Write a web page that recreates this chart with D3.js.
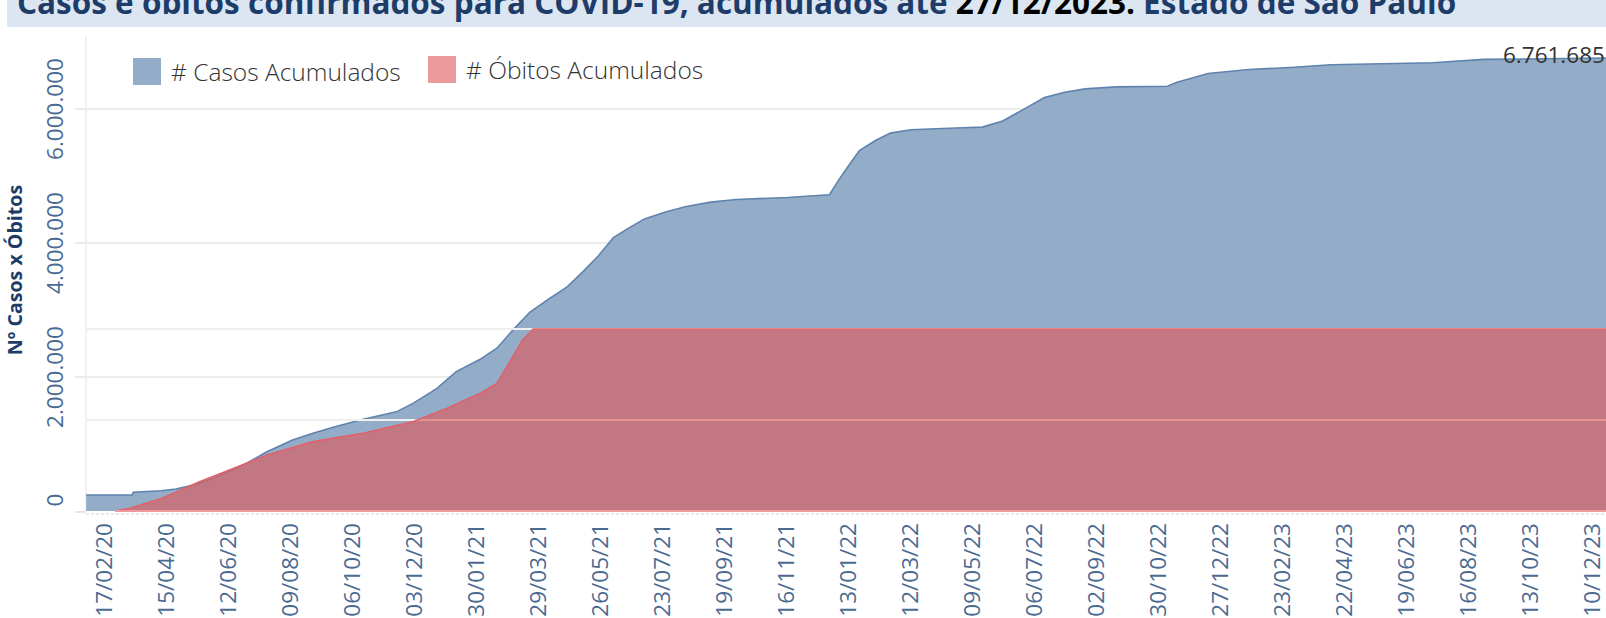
<!DOCTYPE html>
<html>
<head>
<meta charset="utf-8">
<script src="https://cdn.jsdelivr.net/npm/d3@7"></script>
<style>
    body { margin: 0; background: #fff; overflow: hidden; }
    svg { display: block; font-family: "Open Sans", sans-serif; }
</style>
</head>
<body>
<div id="chart"></div>
<script>
// ***************数据*******************
const casosDatas = ['2020-02-01', '2020-03-15', '2020-03-16', '2020-04-11', '2020-04-25', '2020-05-11', '2020-05-30',
    '2020-06-30', '2020-07-19', '2020-08-12', '2020-08-31', '2020-09-19', '2020-10-17', '2020-11-17', '2020-12-03',
    '2020-12-25', '2021-01-12', '2021-02-03', '2021-02-19', '2021-03-06', '2021-03-22', '2021-04-09', '2021-04-26',
    '2021-05-11', '2021-05-25', '2021-06-08', '2021-06-23', '2021-07-07', '2021-07-26', '2021-08-14', '2021-09-07',
    '2021-10-01', '2021-11-18', '2021-12-27', '2022-01-05', '2022-01-15', '2022-01-24', '2022-02-08', '2022-02-22',
    '2022-03-13', '2022-04-30', '2022-05-19', '2022-06-07', '2022-06-26', '2022-07-16', '2022-08-04', '2022-08-23',
    '2022-09-21', '2022-11-08', '2022-11-17', '2022-12-16', '2023-01-23', '2023-03-03', '2023-04-10', '2023-07-14',
    '2023-08-31', '2023-12-27'];
const casosValores = [239000, 239000, 279000, 303000, 328000, 388000, 488000,
    712000, 885000, 1060000, 1160000, 1250000, 1370000, 1480000, 1610000,
    1830000, 2080000, 2260000, 2430000, 2700000, 2970000, 3170000, 3350000,
    3580000, 3810000, 4080000, 4230000, 4360000, 4460000, 4540000, 4610000,
    4650000, 4680000, 4720000, 4950000, 5180000, 5380000, 5530000, 5640000,
    5690000, 5720000, 5730000, 5820000, 5990000, 6170000, 6250000, 6300000,
    6330000, 6340000, 6400000, 6530000, 6590000, 6620000, 6660000, 6690000,
    6740000, 6761685];

const obitosDatas = ['2020-02-28', '2020-03-13', '2020-04-12', '2020-05-17', '2020-06-30', '2020-07-19', '2020-08-31',
    '2020-10-17', '2020-12-03', '2021-01-03', '2021-02-03', '2021-02-19', '2021-03-06', '2021-03-15', '2021-03-25',
    '2023-12-27'];
const obitosValores = [0, 1200, 5600, 12900, 21000, 24600, 30500,
    34200, 39300, 45100, 51700, 56100, 67800, 75200, 80000,
    80000];

const xTickLabels = ['17/02/20', '15/04/20', '12/06/20', '09/08/20', '06/10/20', '03/12/20', '30/01/21', '29/03/21',
    '26/05/21', '23/07/21', '19/09/21', '16/11/21', '13/01/22', '12/03/22', '09/05/22', '06/07/22', '02/09/22',
    '30/10/22', '27/12/22', '23/02/23', '22/04/23', '19/06/23', '16/08/23', '13/10/23', '10/12/23'];
const casosTicks = [0, 2000000, 4000000, 6000000];
const obitosTicks = [40000, 80000];
const ultimoValor = 6761685;

// ***************尺寸*******************
const width = 1606;
const height = 618;
const plotLeft = 86;
const plotTop = 36;
const plotBottom = 511;
const plotRight = 1620;

const parse = d3.utcParse('%Y-%m-%d');
const parseTick = d3.utcParse('%d/%m/%y');
const pt = d3.formatLocale({ decimal: ',', thousands: '.', grouping: [3], currency: ['R$', ''] });
const fmt = pt.format(',d');

const casos = casosDatas.map((d, i) => ({ date: parse(d), value: casosValores[i] }));
const obitos = obitosDatas.map((d, i) => ({ date: parse(d), value: obitosValores[i] }));

/****************************** 比例尺 ***************************************/
const xScale = d3.scaleUtc()
    .domain([parseTick(xTickLabels[0]), parseTick(xTickLabels[xTickLabels.length - 1])])
    .range([103.3, 1592]);
const yCasos = d3.scaleLinear()
    .domain([0, 6000000])
    .range([plotBottom, 109]);
const yObitos = d3.scaleLinear()
    .domain([0, 80000])
    .range([plotBottom, 329]);

const svg = d3.select('#chart').append('svg')
    .attr('width', width)
    .attr('height', height);

svg.append('clipPath').attr('id', 'plotClip')
    .append('rect')
    .attr('x', plotLeft)
    .attr('y', plotTop)
    .attr('width', plotRight - plotLeft)
    .attr('height', plotBottom - plotTop + 1);

// 标题
svg.append('rect')
    .attr('x', 7)
    .attr('y', 0)
    .attr('width', width - 7)
    .attr('height', 27)
    .attr('fill', '#dce6f2');

const title = svg.append('text')
    .attr('x', 17)
    .attr('y', 14)
    .attr('font-size', 31.5)
    .attr('font-weight', 700)
    .attr('fill', '#1e3c68');
title.append('tspan').text('Casos e óbitos confirmados para COVID-19, acumulados até ');
title.append('tspan').attr('fill', '#000').text('27/12/2023.');
title.append('tspan').text(' Estado de São Paulo');

// 网格线 (casos) 背后
svg.append('g')
    .selectAll('line')
    .data(casosTicks.filter((d) => d > 0))
    .enter()
    .append('line')
    .attr('x1', 75)
    .attr('x2', width)
    .attr('y1', (d) => yCasos(d))
    .attr('y2', (d) => yCasos(d))
    .attr('stroke', '#ececec')
    .attr('stroke-width', 2);

// y轴刻度
svg.append('line')
    .attr('x1', 75).attr('x2', plotLeft)
    .attr('y1', plotBottom + 1).attr('y2', plotBottom + 1)
    .attr('stroke', '#e6e6e6').attr('stroke-width', 2);
svg.append('line')
    .attr('x1', plotLeft).attr('x2', plotLeft)
    .attr('y1', plotTop).attr('y2', plotBottom)
    .attr('stroke', '#ececec').attr('stroke-width', 1.5);

const plot = svg.append('g').attr('clip-path', 'url(#plotClip)');

// ***************面积图******************
const areaCasos = d3.area()
    .x((d) => xScale(d.date))
    .y0(plotBottom)
    .y1((d) => yCasos(d.value));
const lineCasos = d3.line()
    .x((d) => xScale(d.date))
    .y((d) => yCasos(d.value));

plot.append('path')
    .datum(casos)
    .attr('d', areaCasos)
    .attr('fill', '#93acc8');
plot.append('path')
    .datum(casos)
    .attr('d', lineCasos)
    .attr('fill', 'none')
    .attr('stroke', '#5f83ad')
    .attr('stroke-width', 1.6);

// 网格线 (obitos) 在面积之间
plot.append('g')
    .selectAll('line')
    .data(obitosTicks)
    .enter()
    .append('line')
    .attr('x1', plotLeft)
    .attr('x2', width)
    .attr('y1', (d) => yObitos(d))
    .attr('y2', (d) => yObitos(d))
    .attr('stroke', '#efefef')
    .attr('stroke-width', 2);

const areaObitos = d3.area()
    .x((d) => xScale(d.date))
    .y0(plotBottom)
    .y1((d) => yObitos(d.value));
const lineObitos = d3.line()
    .x((d) => xScale(d.date))
    .y((d) => yObitos(d.value));

plot.append('path')
    .datum(obitos)
    .attr('d', areaObitos)
    .attr('fill', '#e15759')
    .attr('fill-opacity', 0.62);
plot.append('path')
    .datum(obitos)
    .attr('d', lineObitos)
    .attr('fill', 'none')
    .attr('stroke', '#e0626b')
    .attr('stroke-width', 1.6);

// 基线
svg.append('line')
    .attr('x1', plotLeft).attr('x2', width)
    .attr('y1', plotBottom + 3).attr('y2', plotBottom + 3)
    .attr('stroke', '#e8e8e8').attr('stroke-width', 2)
    .attr('stroke-dasharray', '3,2');
svg.append('line')
    .attr('x1', xScale(obitos[0].date)).attr('x2', width)
    .attr('y1', plotBottom).attr('y2', plotBottom)
    .attr('stroke', '#ef9a9c').attr('stroke-width', 2);

// ***************坐标轴***************
const xAxis = d3.axisBottom(xScale)
    .tickValues(xTickLabels.map(parseTick))
    .tickSize(0)
    .tickFormat(d3.utcFormat('%d/%m/%y'));
const gx = svg.append('g')
    .attr('transform', `translate(0,${plotBottom})`)
    .call(xAxis);
gx.select('.domain').remove();
gx.selectAll('text')
    .attr('transform', 'translate(0,12) rotate(-90)')
    .attr('x', 0)
    .attr('y', 0)
    .attr('dy', '0.35em')
    .attr('text-anchor', 'end')
    .attr('font-family', '"Open Sans", sans-serif')
    .attr('font-size', 22.5)
    .attr('fill', '#4b6a92');

const yAxis = d3.axisLeft(yCasos)
    .tickValues(casosTicks)
    .tickSize(0)
    .tickFormat(fmt);
const gy = svg.append('g')
    .attr('transform', 'translate(55,0)')
    .call(yAxis);
gy.select('.domain').remove();
gy.selectAll('text')
    .attr('transform', (d) => `rotate(-90) translate(${d === 0 ? 11 : 0},0)`)
    .attr('x', 0)
    .attr('y', 0)
    .attr('dy', '0.35em')
    .attr('text-anchor', 'middle')
    .attr('font-family', '"Open Sans", sans-serif')
    .attr('font-size', 22.5)
    .attr('fill', '#4b6a92');
gy.selectAll('.tick')
    .attr('transform', (d) => `translate(0,${yCasos(d)})`);

svg.append('text')
    .attr('transform', 'translate(15,270) rotate(-90)')
    .attr('dy', '0.35em')
    .attr('text-anchor', 'middle')
    .attr('font-size', 19.6)
    .attr('font-weight', 700)
    .attr('fill', '#1e3c68')
    .text('Nº Casos x Óbitos');

// 标签
svg.append('text')
    .attr('x', 1503)
    .attr('y', 63)
    .attr('font-size', 22.5)
    .attr('fill', '#333')
    .text(fmt(ultimoValor));

// 图例
const legend = svg.append('g');
const legendItems = [
    { name: '# Casos Acumulados', color: '#93acc8', x: 133, y: 58 },
    { name: '# Óbitos Acumulados', color: '#ec9a9b', x: 428, y: 56 }
];
const li = legend.selectAll('g')
    .data(legendItems)
    .enter()
    .append('g')
    .attr('transform', (d) => `translate(${d.x},${d.y})`);
li.append('rect')
    .attr('width', 28)
    .attr('height', 27)
    .attr('fill', (d) => d.color);
li.append('text')
    .attr('x', 38)
    .attr('y', 23)
    .attr('font-size', 24.5)
    .attr('font-weight', 300)
    .attr('fill', '#333')
    .text((d) => d.name);
</script>
</body>
</html>
